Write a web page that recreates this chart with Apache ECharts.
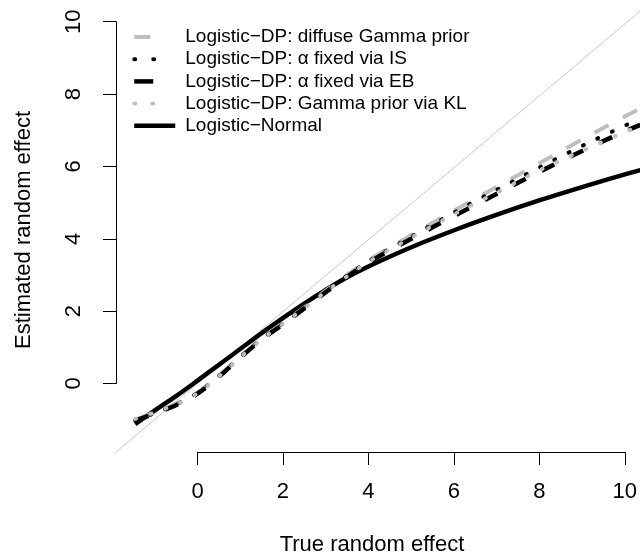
<!DOCTYPE html>
<html><head><meta charset="utf-8">
<script src="https://cdn.jsdelivr.net/npm/echarts@6/dist/echarts.min.js"></script>
<style>html,body{margin:0;padding:0;background:#fff}#c{width:640px;height:560px}</style>
</head><body><div id="c"></div>
<script>
const xTicks = [0, 2, 4, 6, 8, 10];
const yTicks = [0, 2, 4, 6, 8, 10];
const trueEffect = [-1.45, -1, -0.5, 0, 0.5, 1, 1.5, 2, 2.5, 3, 3.5, 4, 5, 6, 7, 8, 9, 10, 10.3];
const normalEst  = [-1.12, -0.75, -0.35, 0.08, 0.52, 0.96, 1.4, 1.82, 2.22, 2.6, 2.95, 3.25, 3.78, 4.25, 4.68, 5.08, 5.45, 5.8, 5.9];
const diffuseEst = [-1.0, -0.8, -0.57, -0.25, 0.22, 0.75, 1.25, 1.68, 2.12, 2.58, 3.02, 3.42, 4.12, 4.8, 5.46, 6.12, 6.78, 7.42, 7.6];
const isEst      = [-1.02, -0.82, -0.58, -0.26, 0.21, 0.74, 1.24, 1.67, 2.11, 2.57, 3.0, 3.4, 4.08, 4.75, 5.38, 6.0, 6.6, 7.16, 7.32];
const ebEst      = [-1.03, -0.83, -0.6, -0.28, 0.19, 0.72, 1.22, 1.65, 2.09, 2.54, 2.97, 3.36, 4.02, 4.65, 5.27, 5.88, 6.46, 7.0, 7.15];
const klEst      = [-0.98, -0.8, -0.58, -0.27, 0.2, 0.73, 1.23, 1.66, 2.1, 2.55, 2.98, 3.38, 4.05, 4.7, 5.3, 5.92, 6.46, 6.98, 7.12];
const diagLine   = [-3, 12];
const names = ['Logistic\u2212DP: diffuse Gamma prior', 'Logistic\u2212DP: \u03b1 fixed via IS', 'Logistic\u2212DP: \u03b1 fixed via EB', 'Logistic\u2212DP: Gamma prior via KL', 'Logistic\u2212Normal'];

const FONT = 'Liberation Sans, Arial, Helvetica, sans-serif';
const zip = (xs, ys) => xs.map((x, i) => [x, ys[i]]);
const chart = echarts.init(document.getElementById('c'), null, {renderer: 'canvas'});
const styles = {
  [names[0]]: {color: '#bebebe', width: 4, type: [16, 16], cap: 'butt', legendType: [16, 200]},
  [names[1]]: {color: '#000', width: 4, type: [1, 15], cap: 'round', legendType: [1, 18, 1, 200]},
  [names[2]]: {color: '#000', width: 4.5, type: [14, 18], cap: 'butt', legendType: [19, 200]},
  [names[3]]: {color: '#bebebe', width: 4, type: [1, 15], cap: 'round', legendType: [1, 17, 1, 200]},
  [names[4]]: {color: '#000', width: 4.5, type: 'solid', cap: 'butt', legendType: 'solid'}
};
const mk = (name, ys, z) => ({
  name, type: 'line', xAxisIndex: 0, yAxisIndex: 0, data: zip(trueEffect, ys),
  smooth: 0.3, showSymbol: false, symbol: 'none', z, animation: false,
  lineStyle: {color: styles[name].color, width: styles[name].width, type: styles[name].type, cap: styles[name].cap},
  itemStyle: {color: styles[name].color}
});
chart.setOption({
  animation: false,
  grid: [
    {left: 116, top: 0, right: 0, bottom: 108, show: false},
    {left: 197.5, right: 12.5, top: 451, bottom: 108, show: false},
    {left: 116, width: 1, top: 21.7, bottom: 176.5, show: false}
  ],
  xAxis: [
    {gridIndex: 0, type: 'value', min: -1.895, max: 10.291, show: false},
    {gridIndex: 1, type: 'value', min: xTicks[0], max: xTicks[xTicks.length - 1], interval: 2, position: 'bottom',
     axisLine: {show: true, lineStyle: {color: '#000', width: 1}},
     axisTick: {show: true, length: 13, lineStyle: {color: '#000', width: 1}},
     axisLabel: {show: true, margin: 29, fontSize: 22, color: '#000', fontFamily: FONT},
     splitLine: {show: false}},
    {gridIndex: 2, type: 'value', min: 0, max: 1, show: false}
  ],
  yAxis: [
    {gridIndex: 0, type: 'value', min: -1.893, max: 10.6, show: false},
    {gridIndex: 1, type: 'value', min: 0, max: 1, show: false},
    {gridIndex: 2, type: 'value', min: yTicks[0], max: yTicks[yTicks.length - 1], interval: 2, position: 'left',
     axisLine: {show: true, lineStyle: {color: '#000', width: 1}},
     axisTick: {show: true, length: 13, lineStyle: {color: '#000', width: 1}},
     axisLabel: {show: true, margin: 31.5, rotate: 90, fontSize: 22, color: '#000', fontFamily: FONT},
     splitLine: {show: false}}
  ],
  legend: {
    orient: 'vertical', left: 132, top: 27.5, padding: 0, itemWidth: 41, itemHeight: 14, itemGap: 3.2,
    data: names.map(n => ({name: n, itemStyle: {color: 'transparent', borderWidth: 0, opacity: 0},
      lineStyle: {color: styles[n].color, width: styles[n].width, type: styles[n].legendType, cap: styles[n].cap}})),
    textStyle: {fontSize: 19, lineHeight: 14, fontFamily: FONT, color: '#000', padding: [0, 0, 0, 5]},
    selectedMode: false
  },
  graphic: [
    {type: 'text', x: 372, y: 545, style: {text: 'True random effect', font: '22px ' + FONT, fill: '#000', align: 'center', verticalAlign: 'middle'}},
    {type: 'text', x: 24, y: 230, rotation: Math.PI / 2, style: {text: 'Estimated random effect', font: '22px ' + FONT, fill: '#000', align: 'center', verticalAlign: 'middle'}}
  ],
  series: [
    {name: 'diag', type: 'line', xAxisIndex: 0, yAxisIndex: 0, data: zip(diagLine, diagLine), showSymbol: false, symbol: 'none', silent: true,
     lineStyle: {color: '#c8c8c8', width: 1}, z: 1},
    mk(names[4], normalEst, 2),
    mk(names[0], diffuseEst, 3),
    mk(names[1], isEst, 4),
    mk(names[2], ebEst, 5),
    mk(names[3], klEst, 6)
  ]
});
</script></body></html>
